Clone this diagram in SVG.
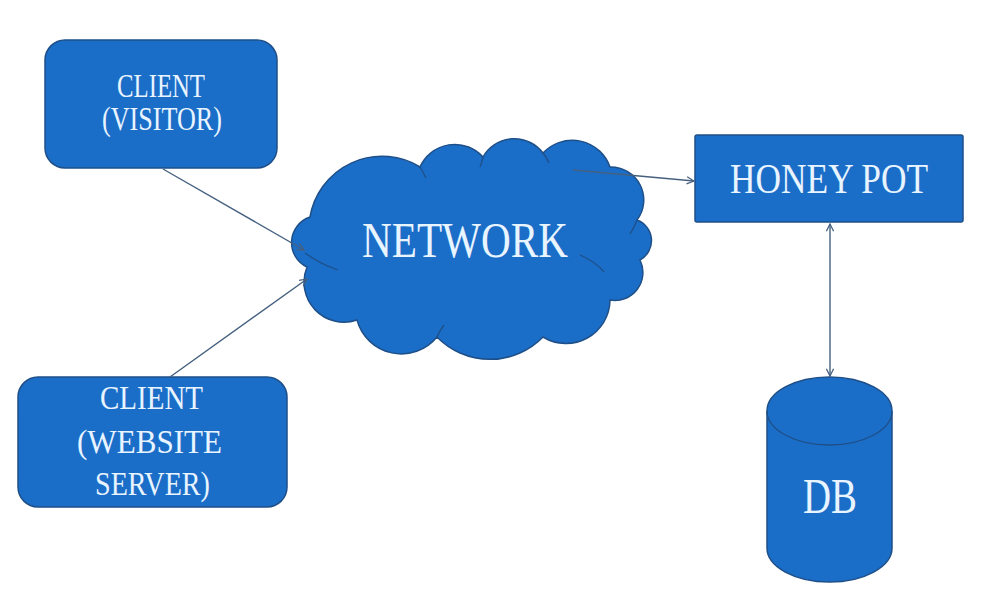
<svg xmlns="http://www.w3.org/2000/svg" width="1001" height="598" viewBox="0 0 1001 598">
<defs>
<style>
.shape{fill:#1b6ec8;stroke:#1e4f88;stroke-width:1.5}
.crease{fill:none;stroke:#1e4f88;stroke-width:1.3}
.lbl{font-family:"Liberation Serif","Times New Roman",serif;fill:#e8f4ff;text-anchor:middle}
.conn{fill:none;stroke:#45607f;stroke-width:1.4}
</style>
<marker id="arr" viewBox="0 0 10 10" refX="9" refY="5" markerWidth="9" markerHeight="9" markerUnits="userSpaceOnUse" orient="auto-start-reverse">
<path d="M1,1 L9,5 L1,9" fill="none" stroke="#45607f" stroke-width="1.4"/>
</marker>
</defs>
<rect width="1001" height="598" fill="#ffffff"/>
<g id="client-visitor">
<rect class="shape" x="45" y="40" width="232" height="128" rx="20"/>
<text class="lbl" x="161" y="97" font-size="33" textLength="88" lengthAdjust="spacingAndGlyphs">CLIENT</text>
<text class="lbl" x="162" y="130" font-size="33" textLength="120" lengthAdjust="spacingAndGlyphs">(VISITOR)</text>
</g>
<g id="client-server">
<rect class="shape" x="18" y="377" width="269" height="130" rx="20"/>
<text class="lbl" x="151.5" y="409" font-size="34" textLength="103" lengthAdjust="spacingAndGlyphs">CLIENT</text>
<text class="lbl" x="149.5" y="453" font-size="34" textLength="145" lengthAdjust="spacingAndGlyphs">(WEBSITE</text>
<text class="lbl" x="152.5" y="495" font-size="34" textLength="115" lengthAdjust="spacingAndGlyphs">SERVER)</text>
</g>
<g id="network">
<path class="shape" d="M310,217 A73,73 0 0 1 420,167 A38,38 0 0 1 483,157 A36,36 0 0 1 543,153 A40,40 0 0 1 610,167 A33,33 0 0 1 637,220 A22,22 0 0 1 640,260 A28,28 0 0 1 610,300 A44,44 0 0 1 543,337 A74,74 0 0 1 437,337 A46,46 0 0 1 357,320 A40,40 0 0 1 307,267 A27,27 0 0 1 310,217 Z"/>
<path class="crease" d="M420,167 Q423,172 426,178"/>
<path class="crease" d="M483,157 Q482,162 480,167"/>
<path class="crease" d="M543,153 Q547,158 549,163"/>
<path class="crease" d="M637,220 Q634,228 630,234"/>
<path class="crease" d="M580,255 Q596,262 604,272"/>
<path class="crease" d="M305,253 Q320,264 338,270"/>
<path class="crease" d="M437,337 Q440,330 444,325"/>
<text class="lbl" x="465" y="257" font-size="50" textLength="206" lengthAdjust="spacingAndGlyphs">NETWORK</text>
</g>
<g id="honey-pot">
<rect class="shape" x="695" y="135" width="268" height="87" rx="2"/>
<text class="lbl" x="829" y="193" font-size="42" textLength="198" lengthAdjust="spacingAndGlyphs">HONEY POT</text>
</g>
<g id="db">
<path class="shape" d="M767,411 A62.5,34 0 0 1 892,411 L892,548 A62.5,34 0 0 1 767,548 Z"/>
<path class="crease" d="M767,411 A62.5,34 0 0 0 892,411"/>
<text class="lbl" x="830" y="513" font-size="50" textLength="54" lengthAdjust="spacingAndGlyphs">DB</text>
</g>
<g id="connectors">
<line class="conn" x1="163" y1="169" x2="304" y2="250" marker-end="url(#arr)"/>
<line class="conn" x1="170" y1="377" x2="307" y2="279" marker-end="url(#arr)"/>
<line class="conn" x1="573" y1="170" x2="694" y2="181" marker-end="url(#arr)"/>
<line class="conn" x1="830" y1="224" x2="830" y2="376" marker-start="url(#arr)" marker-end="url(#arr)"/>
</g>
</svg>
